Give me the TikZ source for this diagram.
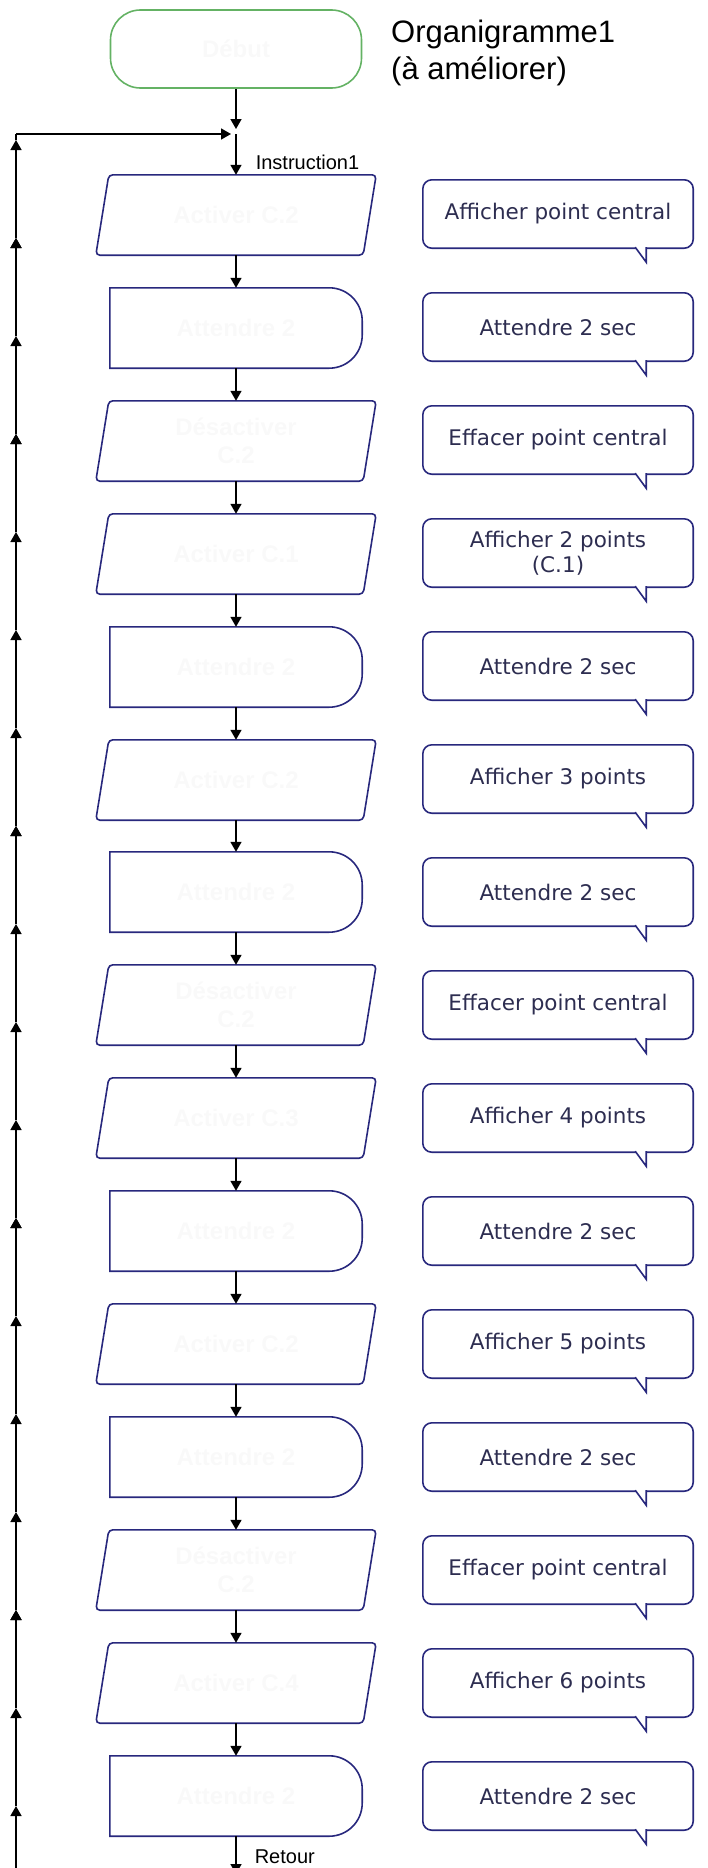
\documentclass[tikz,border=0pt]{standalone}
\usepackage{fontspec}
\setmainfont{Liberation Sans}
\newfontfamily\bubblefont{DejaVu Sans}
\usetikzlibrary{arrows.meta}

\definecolor{boxblue}{RGB}{40,40,125}
\definecolor{startgreen}{RGB}{100,178,100}
\definecolor{bubbletext}{RGB}{45,45,80}
\definecolor{faint}{RGB}{249,249,249}

\tikzset{
  flow/.style={line width=1.6pt, -{Triangle[width=11pt,length=10pt]}},
  outline/.style={draw=boxblue, line width=1.6pt},
  startbox/.style={draw=startgreen, line width=1.6pt, rounded corners=30pt,
    minimum width=251pt, minimum height=78pt, text=faint,
    font=\bfseries\fontsize{24}{28}\selectfont},
  iobox/.style={minimum width=280pt, minimum height=80pt, inner sep=0pt,
    align=center, text=faint, font=\bfseries\fontsize{24}{28}\selectfont},
  waitbox/.style={iobox, minimum width=252pt},
  bubble/.style={minimum width=270pt, minimum height=68pt, inner sep=0pt,
    align=center, text=bubbletext, font=\bubblefont\fontsize{21.5}{25}\selectfont},
  lbl/.style={font=\fontsize{20}{22}\selectfont, inner sep=0pt}
}

% outline of an input/output box round a named node
\newcommand{\ioshape}[1]{%
  \draw[outline, rounded corners=4pt] ([xshift=13pt]#1.north west) -- (#1.north east)
    -- ([xshift=-13pt]#1.south east) -- (#1.south west) -- cycle;}
% outline of a delay box round a named node
\newcommand{\waitshape}[1]{%
  \draw[outline] (#1.south west) -- (#1.north west) -- ([xshift=-33pt]#1.north east)
    arc[start angle=90, end angle=0, radius=33pt] -- ([yshift=33pt]#1.south east)
    arc[start angle=0, end angle=-90, radius=33pt] -- cycle;}
% outline of a comment bubble round a named node
\newcommand{\bubbleshape}[1]{%
  \draw[outline, rounded corners=9pt] (#1.north west) rectangle (#1.south east);
  \filldraw[outline, fill=white] ([xshift=-58pt,yshift=1pt]#1.south east)
    -- ([xshift=-47pt,yshift=-14pt]#1.south east) -- ([xshift=-47pt,yshift=1pt]#1.south east);}

\begin{document}
\begin{tikzpicture}[x=1pt, y=1pt]
\useasboundingbox (0,0) rectangle (708,-1868);

\node[startbox] (debut) at (236,-49) {Début};
\node[align=left, anchor=north west, inner sep=0pt, font=\fontsize{31}{37}\selectfont] (titre) at (391,-20) {Organigramme1\\(à améliorer)};

% flowchart boxes
\node[iobox] (b1) at (236,-215) {Activer C.2};
\node[waitbox] (b2) at (236,-328) {Attendre 2};
\node[iobox] (b3) at (236,-441) {Désactiver\\C.2};
\node[iobox] (b4) at (236,-554) {Activer C.1};
\node[waitbox] (b5) at (236,-667) {Attendre 2};
\node[iobox] (b6) at (236,-780) {Activer C.2};
\node[waitbox] (b7) at (236,-892) {Attendre 2};
\node[iobox] (b8) at (236,-1005) {Désactiver\\C.2};
\node[iobox] (b9) at (236,-1118) {Activer C.3};
\node[waitbox] (b10) at (236,-1231) {Attendre 2};
\node[iobox] (b11) at (236,-1344) {Activer C.2};
\node[waitbox] (b12) at (236,-1457) {Attendre 2};
\node[iobox] (b13) at (236,-1570) {Désactiver\\C.2};
\node[iobox] (b14) at (236,-1683) {Activer C.4};
\node[waitbox] (b15) at (236,-1796) {Attendre 2};

\ioshape{b1} \waitshape{b2} \ioshape{b3} \ioshape{b4} \waitshape{b5}
\ioshape{b6} \waitshape{b7} \ioshape{b8} \ioshape{b9} \waitshape{b10}
\ioshape{b11} \waitshape{b12} \ioshape{b13} \ioshape{b14} \waitshape{b15}

% comments
\node[bubble] (c1) at (558,-214) {Afficher point central};
\node[bubble] (c2) at (558,-327) {Attendre 2 sec};
\node[bubble] (c3) at (558,-440) {Effacer point central};
\node[bubble] (c4) at (558,-553) {Afficher 2 points\\(C.1)};
\node[bubble] (c5) at (558,-666) {Attendre 2 sec};
\node[bubble] (c6) at (558,-779) {Afficher 3 points};
\node[bubble] (c7) at (558,-892) {Attendre 2 sec};
\node[bubble] (c8) at (558,-1005) {Effacer point central};
\node[bubble] (c9) at (558,-1118) {Afficher 4 points};
\node[bubble] (c10) at (558,-1231) {Attendre 2 sec};
\node[bubble] (c11) at (558,-1344) {Afficher 5 points};
\node[bubble] (c12) at (558,-1457) {Attendre 2 sec};
\node[bubble] (c13) at (558,-1570) {Effacer point central};
\node[bubble] (c14) at (558,-1683) {Afficher 6 points};
\node[bubble] (c15) at (558,-1796) {Attendre 2 sec};

\bubbleshape{c1} \bubbleshape{c2} \bubbleshape{c3} \bubbleshape{c4} \bubbleshape{c5}
\bubbleshape{c6} \bubbleshape{c7} \bubbleshape{c8} \bubbleshape{c9} \bubbleshape{c10}
\bubbleshape{c11} \bubbleshape{c12} \bubbleshape{c13} \bubbleshape{c14} \bubbleshape{c15}

% main flow
\coordinate (join) at (236,-134);
\coordinate (ret) at (236,-1874);
\draw[flow, shorten >=5pt] (debut) -- (join);
\draw[flow] (join) -- (b1) node[lbl, pos=0.7, anchor=west, xshift=19pt] {Instruction1};
\draw[flow] (b1) -- (b2);
\draw[flow] (b2) -- (b3);
\draw[flow] (b3) -- (b4);
\draw[flow] (b4) -- (b5);
\draw[flow] (b5) -- (b6);
\draw[flow] (b6) -- (b7);
\draw[flow] (b7) -- (b8);
\draw[flow] (b8) -- (b9);
\draw[flow] (b9) -- (b10);
\draw[flow] (b10) -- (b11);
\draw[flow] (b11) -- (b12);
\draw[flow] (b12) -- (b13);
\draw[flow] (b13) -- (b14);
\draw[flow] (b14) -- (b15);
\draw[flow] (b15) -- (ret) node[lbl, pos=0.55, anchor=west, xshift=18pt] {Retour};

% return line on the left
\coordinate (l0) at (16,-1874);
\coordinate (l1) at (16,-1806);
\coordinate (l2) at (16,-1708);
\coordinate (l3) at (16,-1610);
\coordinate (l4) at (16,-1512);
\coordinate (l5) at (16,-1414);
\coordinate (l6) at (16,-1316);
\coordinate (l7) at (16,-1218);
\coordinate (l8) at (16,-1120);
\coordinate (l9) at (16,-1022);
\coordinate (l10) at (16,-924);
\coordinate (l11) at (16,-826);
\coordinate (l12) at (16,-728);
\coordinate (l13) at (16,-630);
\coordinate (l14) at (16,-532);
\coordinate (l15) at (16,-434);
\coordinate (l16) at (16,-336);
\coordinate (l17) at (16,-238);
\coordinate (l18) at (16,-140);
\coordinate (corner) at (16,-134);

\draw[flow] (l0) edge (l1) (l1) edge (l2) (l2) edge (l3) (l3) edge (l4);
\draw[flow] (l4) edge (l5) (l5) edge (l6) (l6) edge (l7) (l7) edge (l8);
\draw[flow] (l8) edge (l9) (l9) edge (l10) (l10) edge (l11) (l11) edge (l12);
\draw[flow] (l12) edge (l13) (l13) edge (l14) (l14) edge (l15) (l15) edge (l16);
\draw[flow] (l16) edge (l17) (l17) edge (l18);
\draw[line width=1.6pt] (l18) -- (corner);
\draw[flow, shorten >=5pt] (corner) -- (join);

\end{tikzpicture}
\end{document}
